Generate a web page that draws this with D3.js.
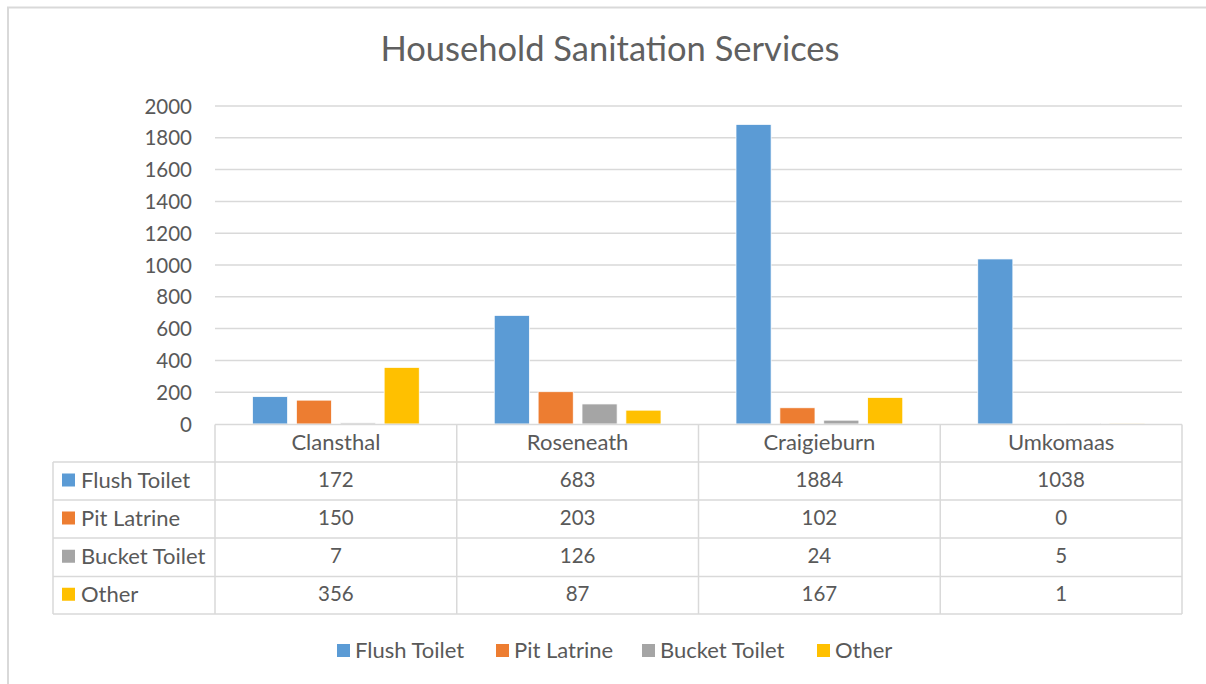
<!DOCTYPE html>
<html>
<head>
<meta charset="utf-8">
<script src="https://cdn.jsdelivr.net/npm/d3@7"></script>
<style>
  html, body { margin: 0; padding: 0; background: #fff; }
  svg text { font-family: Lato, "Open Sans", sans-serif; fill: #595959; }
</style>
</head>
<body>
<svg id="chart" width="1206" height="684"></svg>
<script>
// Household sanitation counts per settlement
const categories = ["Clansthal", "Roseneath", "Craigieburn", "Umkomaas"];
const seriesNames = ["Flush Toilet", "Pit Latrine", "Bucket Toilet", "Other"];
const flushToilet = [172, 683, 1884, 1038];
const pitLatrine = [150, 203, 102, 0];
const bucketToilet = [7, 126, 24, 5];
const other = [356, 87, 167, 1];
const yTicks = [0, 200, 400, 600, 800, 1000, 1200, 1400, 1600, 1800, 2000];
const colors = ["#5B9BD5", "#ED7D31", "#A5A5A5", "#FFC000"];

const seriesValues = [flushToilet, pitLatrine, bucketToilet, other];

const svg = d3.select("#chart");
const W = 1206, H = 684;
const plot = { left: 215, right: 1182, top: 106, bottom: 424 };
const gridColor = "#D9D9D9";
const labelFont = "22px";
const numberFont = "20.5px";

// chart frame
svg.append("rect")
  .attr("x", 8).attr("y", 7.5)
  .attr("width", W + 20).attr("height", H + 20)
  .attr("fill", "#fff").attr("stroke", gridColor).attr("stroke-width", 2);

// title
svg.append("text")
  .attr("x", 610).attr("y", 61)
  .attr("text-anchor", "middle")
  .style("font-size", "34.5px")
  .style("font-weight", 400)
  .style("fill", "#606060")
  .text("Household Sanitation Services");

const x0 = d3.scaleBand().domain(categories).range([plot.left, plot.right]);
const x1 = d3.scaleBand().domain(seriesNames)
  .range([37.5, x0.bandwidth() - 37.5]).paddingInner(0.2);
const y = d3.scaleLinear().domain([0, 2000]).range([plot.bottom, plot.top]);

// horizontal gridlines + value axis labels
const yAxis = d3.axisLeft(y).tickValues(yTicks).tickFormat(d3.format("d"))
  .tickSize(0).tickPadding(0);
const gy = svg.append("g").attr("transform", `translate(${plot.left},0)`).call(yAxis);
gy.select(".domain").remove();
gy.selectAll(".tick line").remove();
gy.selectAll(".tick text")
  .attr("x", -23).attr("dy", "0.35em")
  .style("font-size", numberFont)
  .style("font-family", "Lato, sans-serif")
  .attr("fill", "#595959");

svg.append("g").selectAll("line")
  .data(yTicks.filter(t => t > 0))
  .join("line")
  .attr("x1", plot.left).attr("x2", plot.right)
  .attr("y1", d => y(d)).attr("y2", d => y(d))
  .attr("stroke", gridColor).attr("stroke-width", 1.5);

// clustered bars
const barData = [];
categories.forEach((c, ci) => {
  seriesNames.forEach((s, si) => {
    barData.push({ cat: c, series: s, value: seriesValues[si][ci], color: colors[si] });
  });
});

svg.append("g").selectAll("rect")
  .data(barData)
  .join("rect")
  .attr("x", d => x0(d.cat) + x1(d.series))
  .attr("width", x1.bandwidth())
  .attr("y", d => y(d.value))
  .attr("height", d => y(0) - y(d.value))
  .attr("fill", d => d.color)
  .attr("stroke", "#fff").attr("stroke-width", 0.75);

// data table
const rowEdges = [424.5, 462, 500, 538, 576.5, 614];
const labelLeft = 53;
const table = svg.append("g");
const lineStyle = sel => sel.attr("stroke", gridColor).attr("stroke-width", 1.5);

// horizontal table rules
rowEdges.forEach((ry, i) => {
  table.append("line")
    .attr("x1", i === 0 ? plot.left : labelLeft).attr("x2", plot.right)
    .attr("y1", ry).attr("y2", ry)
    .call(lineStyle);
});
// vertical table rules
table.append("line").attr("x1", labelLeft).attr("x2", labelLeft)
  .attr("y1", rowEdges[1]).attr("y2", rowEdges[5]).call(lineStyle);
categories.forEach(c => {
  table.append("line").attr("x1", x0(c)).attr("x2", x0(c))
    .attr("y1", rowEdges[0]).attr("y2", rowEdges[5]).call(lineStyle);
});
table.append("line").attr("x1", plot.right).attr("x2", plot.right)
  .attr("y1", rowEdges[0]).attr("y2", rowEdges[5]).call(lineStyle);

// category headers
table.selectAll("text.cat")
  .data(categories)
  .join("text")
  .attr("class", "cat")
  .attr("x", d => x0(d) + x0.bandwidth() / 2)
  .attr("y", (rowEdges[0] + rowEdges[1]) / 2 - 1)
  .attr("dy", "0.35em")
  .attr("text-anchor", "middle")
  .style("font-size", labelFont)
  .text(d => d);

// series rows
seriesNames.forEach((s, si) => {
  const cy = (rowEdges[si + 1] + rowEdges[si + 2]) / 2 - 1;
  table.append("rect")
    .attr("x", 62).attr("y", cy - 6.5)
    .attr("width", 13).attr("height", 13)
    .attr("fill", colors[si]);
  table.append("text")
    .attr("x", 81).attr("y", cy).attr("dy", "0.35em")
    .style("font-size", labelFont)
    .text(s);
  table.selectAll(null)
    .data(categories)
    .join("text")
    .attr("x", d => x0(d) + x0.bandwidth() / 2)
    .attr("y", cy).attr("dy", "0.35em")
    .attr("text-anchor", "middle")
    .style("font-size", numberFont)
    .text((d, ci) => seriesValues[si][ci]);
});

// legend
const legendX = [337, 496, 642, 817];
const legend = svg.append("g");
seriesNames.forEach((s, si) => {
  legend.append("rect")
    .attr("x", legendX[si]).attr("y", 644)
    .attr("width", 13).attr("height", 13)
    .attr("fill", colors[si]);
  legend.append("text")
    .attr("x", legendX[si] + 18).attr("y", 650.5).attr("dy", "0.35em")
    .style("font-size", labelFont)
    .text(s);
});
</script>
</body>
</html>
